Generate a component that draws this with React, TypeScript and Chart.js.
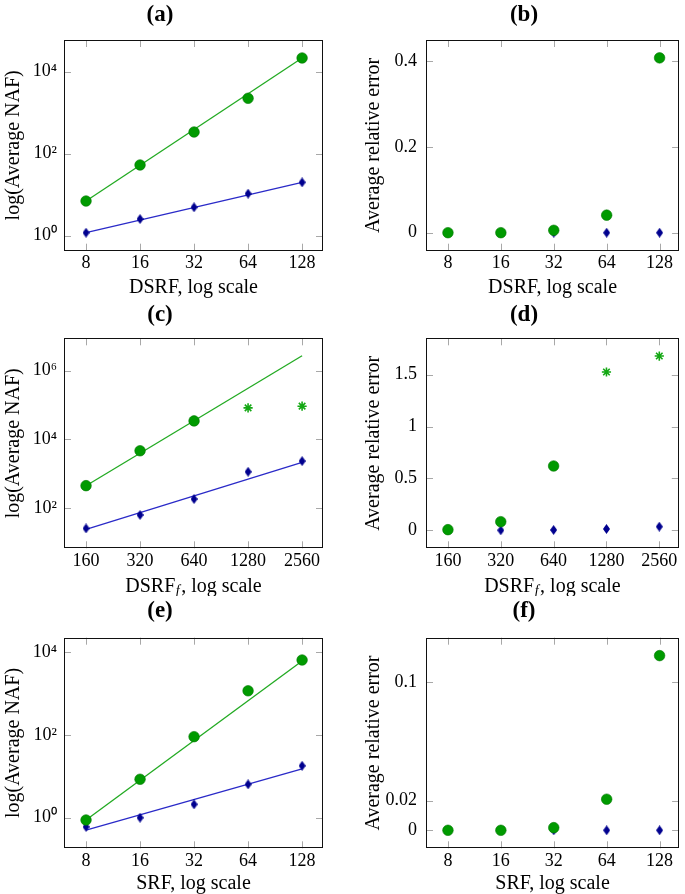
import React, { useEffect, useRef } from 'react';
import { Chart, registerables } from 'chart.js';
Chart.register(...registerables);

const FONT = "'Liberation Serif', 'Times New Roman', serif";

// ---- categories / tick values ----
const dsrf = [8, 16, 32, 64, 128];
const dsrfF = [160, 320, 640, 1280, 2560];
const srf = [8, 16, 32, 64, 128];
const dsrfFCircle = [160, 320, 640];
const dsrfFStar = [1280, 2560];
const fitX8 = [8, 128];
const fitX160 = [160, 2560];

// ---- (a) ----
const aNafGreen = [7.0, 53, 338, 2245, 21600];
const aNafBlue = [1.18, 2.55, 4.93, 10.6, 20.0];
const aFitGreen = [7.0, 21600];
const aFitBlue = [1.18, 20.0];
// ---- (b) ----
const bErrGreen = [0, 0, 0.0056, 0.041, 0.408];
const bErrBlue = [0, 0, 0, 0, 0];
// ---- (c) ----
const cNafGreen = [455, 4700, 34700];
const cNafGreenStar = [83000, 93000];
const cNafBlue = [26, 64, 186, 1150, 2360];
const cFitGreen = [454, 2730000];
const cFitBlue = [24.5, 2170];
// ---- (d) ----
const dErrGreen = [0.006, 0.083, 0.62];
const dErrGreenStar = [1.526, 1.68];
const dErrBlue = [0, 0, 0.003, 0.013, 0.035];
// ---- (e) ----
const eNafGreen = [0.88, 8.5, 91, 1170, 6500];
const eNafBlue = [0.6, 1.0, 2.1, 6.4, 18];
const eFitGreen = [0.88, 6150];
const eFitBlue = [0.5, 15.1];
// ---- (f) ----
const fErrGreen = [0, 0, 0.0018, 0.021, 0.118];
const fErrBlue = [0, 0, 0, 0, 0];

// ---- axis ticks / ranges ----
const logTicksA = [1, 100, 10000];
const logTicksC = [100, 10000, 1000000];
const logTicksE = [1, 100, 10000];
const errTicksB = [0, 0.2, 0.4];
const errTicksD = [0, 0.5, 1, 1.5];
const errTicksF = [0, 0.02, 0.1];
const errLabelsF = ['0', '0.02', '0.1'];

const xRangeLeft8 = [6.03, 167.4];
const xRangeLeft160 = [120.6, 3348];
const xRangeRight8 = [6.0, 165.3];
const xRangeRight160 = [120.0, 3306];
const yRangeA = [0.43, 59300];
const yRangeB = [-0.042, 0.4497];
const yRangeC = [6.87, 8.75e6];
const yRangeD = [-0.1736, 1.851];
const yRangeE = [0.182, 22500];
const yRangeF = [-0.01216, 0.1301];

const GREEN = '#009a00';
const GREEN_EDGE = '#007800';
const GREEN_LINE = '#22aa22';
const BLUE = '#00008f';
const BLUE_LINE = '#2a2ac8';

const SUP: Record<string, string> = { '0': '\u2070', '1': '\u00b9', '2': '\u00b2', '3': '\u00b3', '4': '\u2074', '5': '\u2075', '6': '\u2076', '7': '\u2077', '8': '\u2078', '9': '\u2079' };

function makeDiamond(): HTMLCanvasElement {
  const c = document.createElement('canvas');
  c.width = 7;
  c.height = 10;
  const g = c.getContext('2d')!;
  g.fillStyle = BLUE;
  g.beginPath();
  g.moveTo(3.5, 0);
  g.lineTo(7, 5);
  g.lineTo(3.5, 10);
  g.lineTo(0, 5);
  g.closePath();
  g.fill();
  return c;
}

const pts = (xs: number[], ys: number[]) => ys.map((y, i) => ({ x: xs[i], y }));

const framePlugin = {
  id: 'pgfFrame',
  beforeDatasetsDraw(chart: any) {
    const { ctx, chartArea: a, scales } = chart;
    const L = 7;
    ctx.save();
    ctx.strokeStyle = '#a8a8a8';
    ctx.lineWidth = 1;
    ctx.beginPath();
    scales.x.ticks.forEach((t: any) => {
      const px = Math.round(scales.x.getPixelForValue(t.value)) + 0.5;
      ctx.moveTo(px, a.top);
      ctx.lineTo(px, a.top + L);
      ctx.moveTo(px, a.bottom);
      ctx.lineTo(px, a.bottom - L);
    });
    scales.y.ticks.forEach((t: any) => {
      const py = Math.round(scales.y.getPixelForValue(t.value)) + 0.5;
      ctx.moveTo(a.left, py);
      ctx.lineTo(a.left + L, py);
      ctx.moveTo(a.right, py);
      ctx.lineTo(a.right - L, py);
    });
    ctx.stroke();
    ctx.restore();
  },
  afterDraw(chart: any, _args: any, opts: any) {
    const { ctx, chartArea: a } = chart;
    ctx.save();
    ctx.strokeStyle = '#111';
    ctx.lineWidth = 1;
    const l = Math.round(a.left) + 0.5;
    const t = Math.round(a.top) + 0.5;
    const r = Math.round(a.right) - 0.5;
    const b = Math.round(a.bottom) - 0.5;
    ctx.strokeRect(l, t, r - l, b - t);
    // panel title
    ctx.fillStyle = '#000';
    ctx.font = `bold 23px ${FONT}`;
    ctx.textAlign = 'center';
    ctx.textBaseline = 'middle';
    ctx.fillText(opts.title, opts.titleX, opts.titleY);
    // subscripted x title
    if (opts.xSub) {
      const f1 = `20px ${FONT}`;
      const f2 = `italic 14px ${FONT}`;
      const s1 = 'DSRF';
      const s2 = 'f';
      const s3 = ', log scale';
      ctx.font = f1;
      const w1 = ctx.measureText(s1).width;
      const w3 = ctx.measureText(s3).width;
      ctx.font = f2;
      const w2 = ctx.measureText(s2).width + 2;
      const total = w1 + w2 + w3;
      let x = (a.left + a.right) / 2 - total / 2;
      const y = a.bottom + opts.xTitleOffset;
      ctx.textAlign = 'left';
      ctx.textBaseline = 'alphabetic';
      ctx.font = f1;
      ctx.fillText(s1, x, y + 7);
      x += w1 + 0.5;
      ctx.font = f2;
      ctx.fillText(s2, x, y + 10);
      x += w2 - 0.5;
      ctx.font = f1;
      ctx.fillText(s3, x, y + 7);
    }
    ctx.restore();
  },
};

type PanelDef = {
  left: number; top: number; w: number; h: number;
  padTop: number; padRight: number; yWidth: number; xHeight: number;
  xTicks: number[]; xRange: number[];
  yLog: boolean; yTicks: number[]; yLabels?: string[]; yRange: number[];
  yTitle: string; yTitlePad: number; yTickPad: number;
  xTitle: string; xSub: boolean; xTitlePad: number;
  title: string; titleX: number; titleY: number;
  datasets: () => any[];
};

function circleSet(xs: number[], ys: number[]) {
  return {
    data: pts(xs, ys), order: 0, showLine: false,
    pointStyle: 'circle', pointRadius: 5.3, backgroundColor: GREEN, borderColor: GREEN_EDGE, borderWidth: 0.6,
  };
}
function starSet(xs: number[], ys: number[]) {
  return {
    data: pts(xs, ys), order: 1, showLine: false,
    pointStyle: 'star', pointRadius: 4.6, backgroundColor: GREEN, borderColor: '#14a814', borderWidth: 1.6,
  };
}
function diamondSet(xs: number[], ys: number[], img: HTMLCanvasElement) {
  return {
    data: pts(xs, ys), order: 2, showLine: false,
    pointStyle: img, pointRadius: 4, backgroundColor: BLUE, borderColor: BLUE,
  };
}
function lineSet(xs: number[], ys: number[], color: string, order: number) {
  return {
    data: pts(xs, ys), order, showLine: true, pointRadius: 0,
    borderColor: color, borderWidth: 1.3, backgroundColor: color, fill: false,
  };
}

const LEFT = { left: 0, w: 335, padRight: 12, yWidth: 64, yTitlePad: 4, yTickPad: 7, titleX: 160 };
const RIGHT = { left: 343, w: 342, padRight: 1.5, yWidth: 83, yTitlePad: 20.3, yTickPad: 9, titleX: 181 };
const ROW1 = { top: 0, h: 298, padTop: 40, xHeight: 47.3, titleY: 15, xTitlePad: 0.7 };
const ROW2 = { top: 298, h: 298, padTop: 40.3, xHeight: 47.7, titleY: 17, xTitlePad: 1 };
const ROW3 = { top: 596, h: 298, padTop: 41.7, xHeight: 45.7, titleY: 15, xTitlePad: 0 };

const panels: PanelDef[] = [
  {
    ...LEFT, ...ROW1, xTicks: dsrf, xRange: xRangeLeft8, yLog: true, yTicks: logTicksA, yRange: yRangeA,
    yTitle: 'log(Average NAF)', xTitle: 'DSRF, log scale', xSub: false, title: '(a)',
    datasets: () => {
      const d = makeDiamond();
      return [circleSet(dsrf, aNafGreen), diamondSet(dsrf, aNafBlue, d), lineSet(fitX8, aFitGreen, GREEN_LINE, 3), lineSet(fitX8, aFitBlue, BLUE_LINE, 4)];
    },
  },
  {
    ...RIGHT, ...ROW1, xTicks: dsrf, xRange: xRangeRight8, yLog: false, yTicks: errTicksB, yRange: yRangeB,
    yTitle: 'Average relative error', xTitle: 'DSRF, log scale', xSub: false, title: '(b)',
    datasets: () => {
      const d = makeDiamond();
      return [circleSet(dsrf, bErrGreen), diamondSet(dsrf, bErrBlue, d)];
    },
  },
  {
    ...LEFT, ...ROW2, xTicks: dsrfF, xRange: xRangeLeft160, yLog: true, yTicks: logTicksC, yRange: yRangeC,
    yTitle: 'log(Average NAF)', xTitle: 'DSRFf, log scale', xSub: true, title: '(c)',
    datasets: () => {
      const d = makeDiamond();
      return [circleSet(dsrfFCircle, cNafGreen), starSet(dsrfFStar, cNafGreenStar), diamondSet(dsrfF, cNafBlue, d), lineSet(fitX160, cFitGreen, GREEN_LINE, 3), lineSet(fitX160, cFitBlue, BLUE_LINE, 4)];
    },
  },
  {
    ...RIGHT, ...ROW2, xTicks: dsrfF, xRange: xRangeRight160, yLog: false, yTicks: errTicksD, yRange: yRangeD,
    yTitle: 'Average relative error', xTitle: 'DSRFf, log scale', xSub: true, title: '(d)',
    datasets: () => {
      const d = makeDiamond();
      return [circleSet(dsrfFCircle, dErrGreen), starSet(dsrfFStar, dErrGreenStar), diamondSet(dsrfF, dErrBlue, d)];
    },
  },
  {
    ...LEFT, ...ROW3, xTicks: srf, xRange: xRangeLeft8, yLog: true, yTicks: logTicksE, yRange: yRangeE,
    yTitle: 'log(Average NAF)', xTitle: 'SRF, log scale', xSub: false, title: '(e)',
    datasets: () => {
      const d = makeDiamond();
      return [circleSet(srf, eNafGreen), diamondSet(srf, eNafBlue, d), lineSet(fitX8, eFitGreen, GREEN_LINE, 3), lineSet(fitX8, eFitBlue, BLUE_LINE, 4)];
    },
  },
  {
    ...RIGHT, ...ROW3, xTicks: srf, xRange: xRangeRight8, yLog: false, yTicks: errTicksF, yLabels: errLabelsF, yRange: yRangeF,
    yTitle: 'Average relative error', xTitle: 'SRF, log scale', xSub: false, title: '(f)',
    datasets: () => {
      const d = makeDiamond();
      return [circleSet(srf, fErrGreen), diamondSet(srf, fErrBlue, d)];
    },
  },
];

function buildConfig(p: PanelDef): any {
  const tickFont = { family: FONT, size: 18 };
  const titleFont = { family: FONT, size: 20, lineHeight: 1 };
  return {
    type: 'scatter',
    data: { datasets: p.datasets() },
    options: {
      responsive: false,
      animation: false,
      devicePixelRatio: 1,
      layout: { padding: { top: p.padTop, right: p.padRight, left: 0, bottom: 0 } },
      plugins: {
        legend: { display: false },
        tooltip: { enabled: false },
        pgfFrame: { title: p.title, titleX: p.titleX, titleY: p.titleY, xSub: p.xSub, xTitleOffset: 36.7 },
      },
      scales: {
        x: {
          type: 'logarithmic',
          position: 'bottom',
          min: p.xRange[0],
          max: p.xRange[1],
          grid: { display: false, drawTicks: false },
          border: { display: false },
          ticks: { autoSkip: false, maxRotation: 0, padding: 2, color: '#000', font: tickFont, callback: (v: any) => String(v) },
          afterBuildTicks: (s: any) => { s.ticks = p.xTicks.map((v) => ({ value: v })); },
          afterFit: (s: any) => { s.height = p.xHeight; },
          title: { display: !p.xSub, text: p.xTitle, color: '#000', font: titleFont, padding: { top: 0, bottom: p.xTitlePad } },
        },
        y: {
          type: p.yLog ? 'logarithmic' : 'linear',
          position: 'left',
          min: p.yRange[0],
          max: p.yRange[1],
          grid: { display: false, drawTicks: false },
          border: { display: false },
          ticks: {
            autoSkip: false, padding: p.yTickPad, color: '#000', font: tickFont,
            callback: (v: any) => {
              if (p.yLog) {
                const e = String(Math.round(Math.log10(v)));
                return '10' + e.split('').map((c) => SUP[c]).join('');
              }
              if (p.yLabels) {
                const i = p.yTicks.indexOf(v);
                if (i >= 0) return p.yLabels[i];
              }
              return String(v);
            },
          },
          afterBuildTicks: (s: any) => { s.ticks = p.yTicks.map((v) => ({ value: v })); },
          afterFit: (s: any) => { s.width = p.yWidth; },
          title: { display: true, text: p.yTitle, color: '#000', font: titleFont, padding: { top: p.yTitlePad, bottom: 0 } },
        },
      },
    },
    plugins: [framePlugin],
  };
}

function Panel({ p }: { p: PanelDef }) {
  const ref = useRef<HTMLCanvasElement>(null);
  useEffect(() => {
    const chart = new Chart(ref.current as HTMLCanvasElement, buildConfig(p));
    return () => chart.destroy();
  }, [p]);
  return (
    <canvas
      ref={ref}
      width={p.w}
      height={p.h}
      style={{ position: 'absolute', left: p.left, top: p.top, width: p.w, height: p.h }}
    />
  );
}

export default function App() {
  return (
    <div style={{ position: 'absolute', left: 0, top: 0, width: 685, height: 894, overflow: 'hidden', background: '#fff' }}>
      {panels.map((p, i) => (
        <Panel key={i} p={p} />
      ))}
    </div>
  );
}
